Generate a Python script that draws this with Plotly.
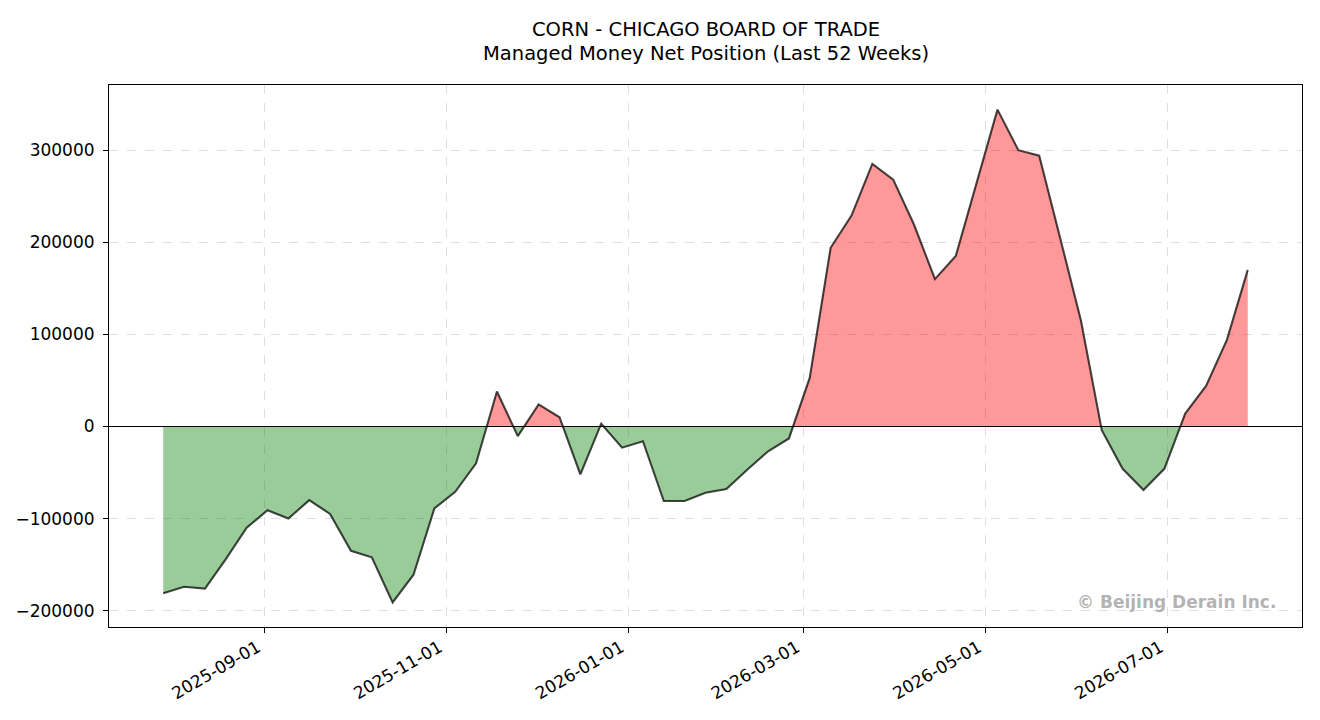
# -*- coding: utf-8 -*-

import pandas as pd
import plotly.graph_objects as go

# -----------------------------------------------------------------------------
# weekly COT report dates (Tuesdays) and managed money net position

start_date = '2025-07-29'
n_weeks = 53

net_position = [
    -181000, -174000, -176000, -144000, -110000, -91000, -100000, -80000,
    -95000, -135000, -142000, -191000, -161000, -89000, -71000, -40000,
    38000, -10500, 24000, 10000, -52000, 3000, -23000, -16000,
    -81000, -81000, -72000, -68000, -47000, -27000, -13000, 53000,
    194000, 229000, 285000, 268000, 219000, 160000, 185000, 265000,
    344000, 300000, 294000, 205000, 115000, -4000, -46000, -69000,
    -46000, 14000, 44000, 94000, 170000,
]

date_ticks = ['2025-09-01', '2025-11-01', '2026-01-01', '2026-03-01', '2026-05-01', '2026-07-01']
value_ticks = [-200000, -100000, 0, 100000, 200000, 300000]

title_main = 'CORN - CHICAGO BOARD OF TRADE'
title_sub = 'Managed Money Net Position (Last 52 Weeks)'
watermark = '© Beijing Derain Inc.'

# -----------------------------------------------------------------------------

dates = pd.date_range(start_date, periods=n_weeks, freq='7D')
s = pd.Series(net_position, index=dates, dtype=float)

# insert zero crossings so the fills meet the zero line (like interpolate=True)
xs = [dates[0]]
ys = [s.iloc[0]]
for i in range(1, len(s)):
    y0, y1 = s.iloc[i - 1], s.iloc[i]
    if y0 * y1 < 0:
        t0, t1 = dates[i - 1], dates[i]
        frac = y0 / (y0 - y1)
        xs.append(t0 + (t1 - t0) * frac)
        ys.append(0.0)
    xs.append(dates[i])
    ys.append(y1)

pos = [max(v, 0) for v in ys]
neg = [min(v, 0) for v in ys]

# axis ranges with 5% padding, matplotlib style
span = dates[-1] - dates[0]
x_range = [dates[0] - span * 0.05, dates[-1] + span * 0.05]
vmin, vmax = min(net_position), max(net_position)
pad = (vmax - vmin) * 0.05
y_range = [vmin - pad, vmax + pad]

fig = go.Figure()

fig.add_trace(go.Scatter(x=xs, y=pos, mode='none', fill='tozeroy',
                         fillcolor='rgba(255,0,0,0.4)', hoverinfo='skip'))
fig.add_trace(go.Scatter(x=xs, y=neg, mode='none', fill='tozeroy',
                         fillcolor='rgba(0,128,0,0.4)', hoverinfo='skip'))
fig.add_trace(go.Scatter(x=dates, y=net_position, mode='lines',
                         line=dict(color='rgba(0,0,0,0.72)', width=2.1)))

# zero line
fig.add_hline(y=0, line=dict(color='black', width=1.1))

axis_common = dict(
    showline=True, linecolor='black', linewidth=1.1, mirror=True,
    ticks='outside', ticklen=5, tickwidth=1, tickcolor='black',
    showgrid=True, gridcolor='rgba(0,0,0,0.13)', griddash='dash', gridwidth=1,
    zeroline=False, automargin=False,
    tickfont=dict(family='DejaVu Sans', size=17, color='black'),
)

fig.update_xaxes(range=x_range, tickvals=date_ticks, ticktext=date_ticks,
                 tickangle=-30, ticklabelshift=-7, ticklabelstandoff=-2, **axis_common)
fig.update_yaxes(range=y_range, tickvals=value_ticks, tickformat='d',
                 ticklabelstandoff=5, **axis_common)

# two-line title as annotations above the plot area
title_font = dict(family='DejaVu Sans', size=19.5, color='black')
fig.add_annotation(text=title_main, xref='paper', yref='paper', x=0.5, y=1.103,
                   xanchor='center', yanchor='middle', showarrow=False, font=title_font)
fig.add_annotation(text=title_sub, xref='paper', yref='paper', x=0.5, y=1.059,
                   xanchor='center', yanchor='middle', showarrow=False, font=title_font)

fig.add_annotation(text=watermark, xref='paper', yref='paper', x=0.98, y=0.024,
                   xanchor='right', yanchor='bottom', showarrow=False,
                   font=dict(family='DejaVu Sans', size=17, color='rgba(128,128,128,0.6)',
                             weight='bold'))

# page body adds an 8px margin, so the figure is sized to fit inside it
fig.update_layout(
    width=1304, height=704,
    showlegend=False,
    plot_bgcolor='white', paper_bgcolor='white',
    margin=dict(l=101, r=10, t=77, b=85),
)

fig.write_html('out.html')
